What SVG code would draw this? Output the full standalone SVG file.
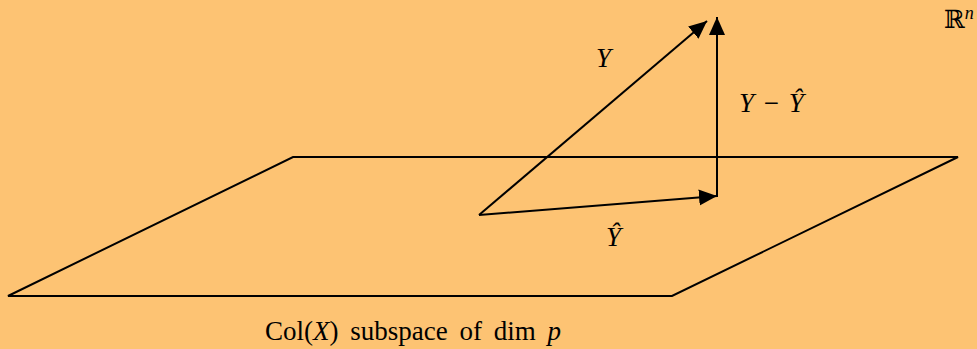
<svg xmlns="http://www.w3.org/2000/svg" width="977" height="349" viewBox="0 0 977 349">
<defs>
<style>
.ln{fill:none;stroke:#000;stroke-width:2;stroke-linejoin:miter}
.t{font-family:"Liberation Serif","DejaVu Serif",serif;fill:#000}
.i{font-style:italic}
</style>
<marker id="ah" markerUnits="userSpaceOnUse" markerWidth="20" markerHeight="18" refX="18" refY="8" orient="auto">
<path d="M0,0 L18,8 L0,16 z" fill="#000"/>
</marker>
</defs>
<rect width="977" height="349" fill="#FDC373"/>
<g id="plane">
<path class="ln" d="M8,296 L293,157 L958,157 L672,296 Z"/>
<text class="t" x="265" y="340" font-size="27" word-spacing="5">Col(<tspan class="i">X</tspan>) subspace of dim <tspan class="i">p</tspan></text>
</g>
<g id="space">
<text class="t" x="944" y="28" font-size="25">ℝ<tspan font-size="18" dy="-9" class="i">n</tspan></text>
</g>
<g id="connectors">
<line class="ln" x1="479" y1="215" x2="707" y2="21" marker-end="url(#ah)"/>
<line class="ln" x1="479" y1="215" x2="717" y2="196" marker-end="url(#ah)"/>
<line class="ln" x1="717" y1="197" x2="717" y2="17" marker-end="url(#ah)"/>
</g>
<g id="labels">
<text class="t i" x="596" y="67" font-size="27">Y</text>
<text class="t" x="739" y="112" font-size="27" word-spacing="3"><tspan class="i">Y</tspan> − <tspan class="i">Ŷ</tspan></text>
<text class="t i" x="606" y="246" font-size="27">Ŷ</text>
</g>
</svg>
